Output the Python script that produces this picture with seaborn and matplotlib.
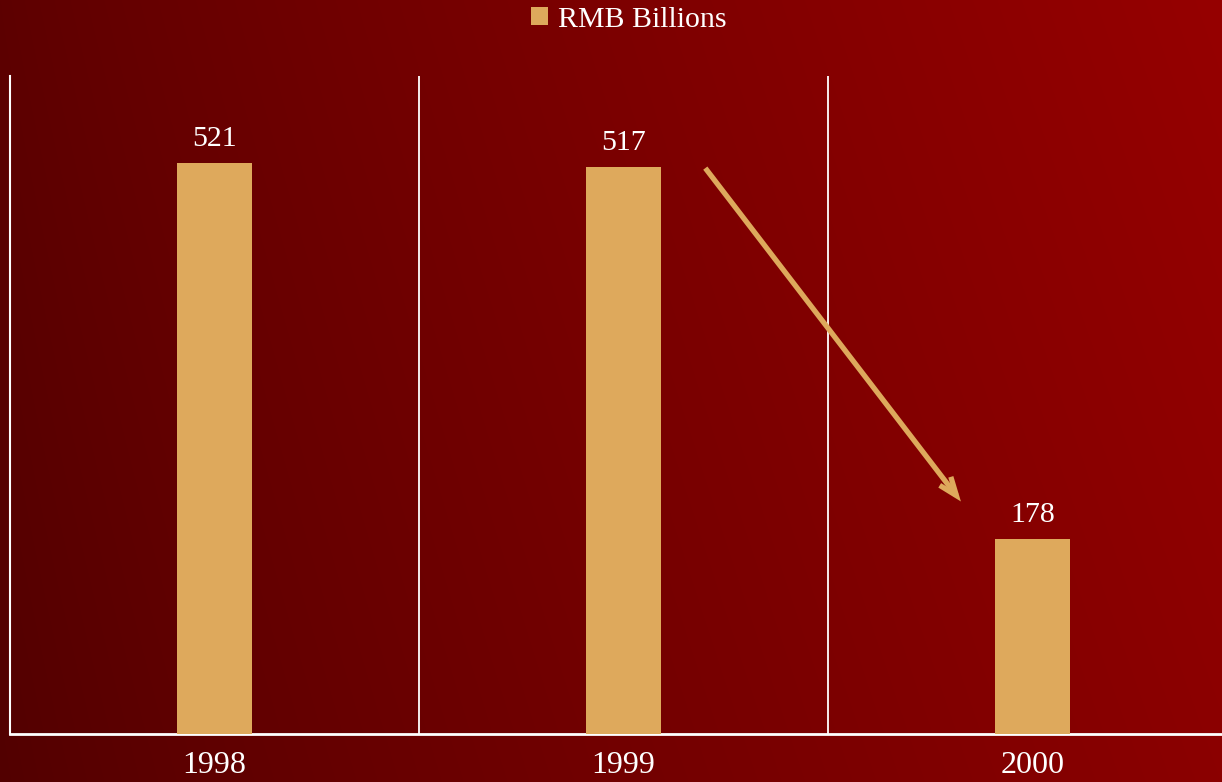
import numpy as np
import pandas as pd
import matplotlib
matplotlib.use("Agg")
import matplotlib.pyplot as plt
from matplotlib.patches import Patch
import seaborn as sns

# Data
years = ["1998", "1999", "2000"]
rmb_billions = [521, 517, 178]
series_name = "RMB Billions"

BAR_COLOR = "#DEA95C"
TEXT_COLOR = "white"

sns.set_theme(style="white")
plt.rcParams["font.family"] = ["Liberation Serif", "DejaVu Serif"]

W, H, DPI = 12.22, 7.82, 100
fig = plt.figure(figsize=(W, H), dpi=DPI)

# Dark-red gradient backdrop
bg = fig.add_axes([0, 0, 1, 1], zorder=0)
gx, gy = np.meshgrid(np.linspace(0, 1, 600), np.linspace(0, 1, 400))
red = 93 + 57 * gx ** 0.85 - 11 * gy
img = np.zeros(gx.shape + (3,))
img[..., 0] = np.clip(red, 0, 255) / 255.0
bg.imshow(img, aspect="auto", extent=[0, 1, 1, 0], interpolation="bilinear")
bg.set_axis_off()

# Plot area (right edge runs past the figure, as in the slide layout)
left_px, right_px, top_px, base_px = 10, 1237, 76, 734
ax = fig.add_axes([left_px / 1222, (782 - base_px) / 782,
                   (right_px - left_px) / 1222, (base_px - top_px) / 782],
                  zorder=1)
ax.patch.set_alpha(0)

df = pd.DataFrame({"year": years, "value": rmb_billions})
sns.barplot(data=df, x="year", y="value", color=BAR_COLOR, saturation=1,
            width=0.185, ax=ax, linewidth=0, edgecolor="none", zorder=3)

ax.set_xlim(-0.5, len(years) - 0.5)
ax.set_ylim(0, 600)

# Value labels
for cont in ax.containers:
    ax.bar_label(cont, labels=[str(v) for v in rmb_billions], padding=8,
                 color=TEXT_COLOR, fontsize=21.5)

# Category separators
for xb in np.arange(0.5, len(years) - 0.5, 1.0):
    ax.axvline(xb, color="white", lw=1.3, zorder=2)

for side in ["top", "right"]:
    ax.spines[side].set_visible(False)
ax.spines["left"].set_color("white")
ax.spines["left"].set_linewidth(1.5)
ax.spines["bottom"].set_color("white")
ax.spines["bottom"].set_linewidth(2)

ax.set_yticks([])
ax.set_xlabel("")
ax.set_ylabel("")
ax.tick_params(axis="x", length=0, pad=12, colors=TEXT_COLOR, labelsize=23)

# Trend arrow from the 1999 bar down toward 2000
arrow_from = (1 + 0.20, rmb_billions[1] - 1)
arrow_to = (2 - 0.175, rmb_billions[2] + 34)
ax.annotate("", xy=arrow_to, xytext=arrow_from,
            arrowprops=dict(arrowstyle="->,head_length=1.1,head_width=0.42",
                            color=BAR_COLOR, lw=3.8, shrinkA=0, shrinkB=0,
                            capstyle="butt", joinstyle="miter"),
            zorder=4)

# Legend
handle = Patch(facecolor=BAR_COLOR, edgecolor="none")
leg = fig.legend([handle], [series_name], loc="center",
                 bbox_to_anchor=(629 / 1222, 1 - 20 / 782), frameon=False,
                 fontsize=21.5, handlelength=0.55, handleheight=0.55,
                 handletextpad=0.35, borderpad=0)
for t in leg.get_texts():
    t.set_color(TEXT_COLOR)

fig.savefig("out.png", dpi=DPI)
